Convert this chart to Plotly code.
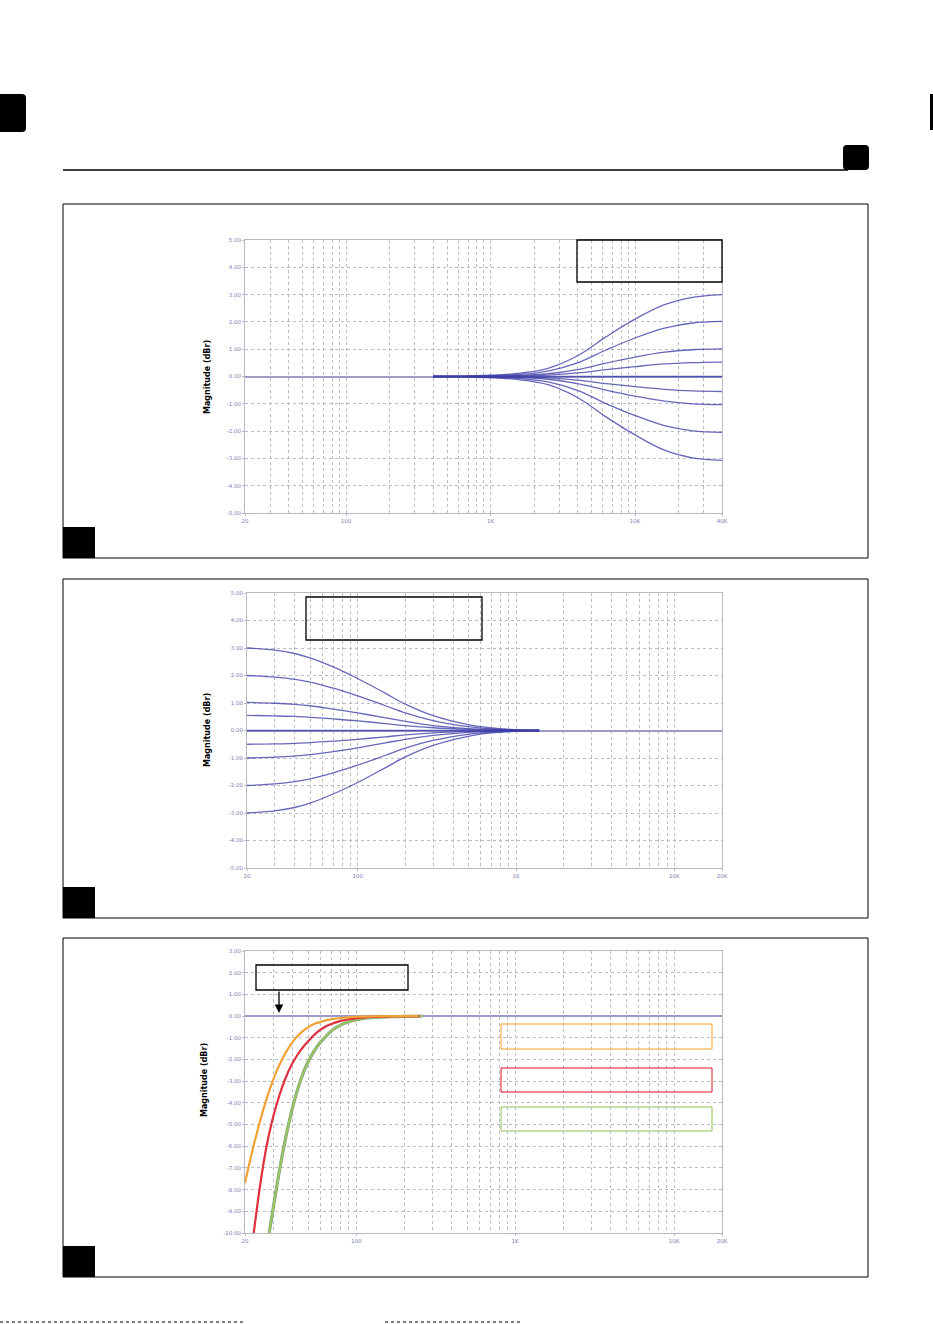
import plotly.graph_objects as go
import math

# ---------------- data ----------------
# Panel 1: high-shelf family (Hz, dBr)
hs_freq = [400, 630, 1000, 1600, 2500, 4000, 6300, 10000, 16000, 25000, 40000]
hs_p3 = [0, 0.015, 0.045, 0.12, 0.3, 0.76, 1.45, 2.1, 2.63, 2.9, 3.0]
hs_p2 = [0, 0.01, 0.03, 0.08, 0.2, 0.5, 0.97, 1.41, 1.77, 1.96, 2.02]
hs_p1 = [0, 0.005, 0.015, 0.04, 0.1, 0.25, 0.49, 0.71, 0.89, 0.98, 1.01]
hs_p05 = [0, 0.003, 0.008, 0.02, 0.05, 0.13, 0.25, 0.36, 0.46, 0.51, 0.53]
hs_0 = [0, 0, 0, 0, 0, 0, 0, 0, 0, 0, 0]
hs_m05 = [0, -0.003, -0.008, -0.02, -0.05, -0.13, -0.26, -0.37, -0.47, -0.53, -0.55]
hs_m1 = [0, -0.005, -0.015, -0.04, -0.1, -0.26, -0.5, -0.72, -0.9, -1.0, -1.03]
hs_m2 = [0, -0.01, -0.03, -0.08, -0.2, -0.51, -0.99, -1.43, -1.8, -1.99, -2.05]
hs_m3 = [0, -0.015, -0.045, -0.12, -0.3, -0.77, -1.48, -2.14, -2.7, -2.98, -3.07]

# Panel 2: low-shelf family
ls_freq = [20, 30, 40, 50, 70, 100, 150, 200, 300, 500, 700, 1000, 1400]
ls_p3 = [3.0, 2.92, 2.8, 2.64, 2.31, 1.89, 1.35, 0.96, 0.54, 0.21, 0.09, 0.03, 0.0]
ls_p2 = [2.0, 1.94, 1.86, 1.76, 1.54, 1.26, 0.9, 0.64, 0.36, 0.14, 0.06, 0.02, 0.0]
ls_p1 = [1.02, 0.99, 0.95, 0.9, 0.78, 0.64, 0.46, 0.33, 0.18, 0.07, 0.03, 0.01, 0.0]
ls_p05 = [0.55, 0.53, 0.51, 0.48, 0.42, 0.35, 0.25, 0.18, 0.1, 0.04, 0.015, 0.005, 0.0]
ls_0 = [0, 0, 0, 0, 0, 0, 0, 0, 0, 0, 0, 0, 0]
ls_m05 = [-0.5, -0.49, -0.47, -0.44, -0.39, -0.32, -0.23, -0.16, -0.09, -0.035, -0.015, -0.005, 0.0]
ls_m1 = [-1.0, -0.97, -0.93, -0.88, -0.77, -0.63, -0.45, -0.32, -0.18, -0.07, -0.03, -0.01, 0.0]
ls_m2 = [-2.0, -1.94, -1.86, -1.76, -1.54, -1.26, -0.9, -0.64, -0.36, -0.14, -0.06, -0.02, 0.0]
ls_m3 = [-3.0, -2.92, -2.8, -2.64, -2.31, -1.89, -1.35, -0.96, -0.54, -0.21, -0.09, -0.03, 0.0]

# Panel 3: high-pass curves
hp_orange_f = [20, 21.9, 24.0, 26.3, 28.8, 31.5, 34.5, 37.8, 41.4, 45.4, 49.7, 54.4, 59.6, 65.3, 80, 101, 140, 200, 246]
hp_orange_v = [-7.7, -6.42, -5.26, -4.22, -3.32, -2.56, -1.94, -1.44, -1.04, -0.74, -0.52, -0.37, -0.27, -0.19, -0.09, -0.03, -0.01, 0.0, 0.0]
hp_red_f = [22.7, 24.9, 27.2, 29.8, 32.7, 35.8, 39.2, 43.0, 47.1, 51.6, 56.5, 61.9, 67.8, 80, 101, 128, 170, 250]
hp_red_v = [-10, -7.8, -6.08, -4.76, -3.72, -2.9, -2.26, -1.76, -1.37, -1.04, -0.76, -0.55, -0.4, -0.22, -0.1, -0.04, -0.01, 0.0]
hp_green_f = [28.4, 31.1, 34.1, 37.4, 41.0, 44.9, 49.2, 53.9, 59.1, 64.8, 71.0, 77.8, 85.3, 92, 117, 164, 220, 260]
hp_green_v = [-10, -8.2, -6.52, -5.06, -3.86, -2.92, -2.2, -1.66, -1.24, -0.92, -0.64, -0.46, -0.32, -0.24, -0.09, -0.03, -0.01, 0.0]

# tick labels
x_ticks_40k = [20, 100, 1000, 10000, 40000]
x_text_40k = ["20", "100", "1K", "10K", "40K"]
x_ticks_20k = [20, 100, 1000, 10000, 20000]
x_text_20k = ["20", "100", "1K", "10K", "20K"]
y_ticks_a = [5, 4, 3, 2, 1, 0, -1, -2, -3, -4, -5]
y_ticks_c = [3, 2, 1, 0, -1, -2, -3, -4, -5, -6, -7, -8, -9, -10]
y_title = "Magnitude (dBr)"

# ---------------- layout helpers ----------------
W, H = 933, 1324
def X(x): return x / W
def Y(y): return 1 - y / H

minor_grid_40k = [m * 10 ** d for d in range(1, 5) for m in range(2, 10) if 20 <= m * 10 ** d <= 40000]
minor_grid_20k = [m * 10 ** d for d in range(1, 5) for m in range(2, 10) if 20 <= m * 10 ** d <= 20000]

GRID = "#bcbcc8"
TICKC = "#7d7db3"
CURVE = "rgba(62,62,168,0.78)"

fig = go.Figure()

def add_family(freq, series, axis):
    for s in series:
        fig.add_trace(go.Scatter(x=freq, y=s, mode="lines", line=dict(color=CURVE, width=1.3, shape="spline", smoothing=1.0),
                                 xaxis="x" + axis, yaxis="y" + axis, hoverinfo="skip"))

add_family(hs_freq, [hs_p3, hs_p2, hs_p1, hs_p05, hs_0, hs_m05, hs_m1, hs_m2, hs_m3], "")
add_family(ls_freq, [ls_p3, ls_p2, ls_p1, ls_p05, ls_0, ls_m05, ls_m1, ls_m2, ls_m3], "2")

fig.add_trace(go.Scatter(x=hp_green_f, y=hp_green_v, mode="lines", line=dict(color="#8a9a80", width=3.2, shape="spline"),
                         xaxis="x3", yaxis="y3", hoverinfo="skip"))
fig.add_trace(go.Scatter(x=hp_green_f, y=hp_green_v, mode="lines", line=dict(color="#96c862", width=2, shape="spline"),
                         xaxis="x3", yaxis="y3", hoverinfo="skip"))
fig.add_trace(go.Scatter(x=hp_red_f, y=hp_red_v, mode="lines", line=dict(color="#e0303e", width=2.2, shape="spline"),
                         xaxis="x3", yaxis="y3", hoverinfo="skip"))
fig.add_trace(go.Scatter(x=hp_orange_f, y=hp_orange_v, mode="lines", line=dict(color="#f2a233", width=2.2, shape="spline"),
                         xaxis="x3", yaxis="y3", hoverinfo="skip"))

def xaxis(dom, top, tickvals, ticktext, minor_vals):
    return dict(type="log", domain=dom, range=[math.log10(20), math.log10(top)],
                tickmode="array", tickvals=tickvals, ticktext=ticktext,
                tickfont=dict(size=5.5, color=TICKC, family="DejaVu Sans"),
                showgrid=True, gridcolor=GRID, griddash="dot", gridwidth=1,
                minor=dict(tickmode="array", tickvals=minor_vals, showgrid=True, gridcolor=GRID,
                           griddash="dot", gridwidth=1, ticks=""),
                showline=True, linecolor="#b8b8c4", linewidth=1, mirror=True, automargin=False,
                ticks="outside", ticklen=2, tickcolor="#b8b8c4", zeroline=False, fixedrange=True)

def yaxis(dom, rng, tickvals, anchor, zw):
    return dict(domain=dom, range=rng, tickmode="array", tickvals=tickvals,
                ticktext=["%.2f" % v for v in tickvals], anchor=anchor,
                tickfont=dict(size=5.5, color=TICKC, family="DejaVu Sans"),
                showgrid=True, gridcolor=GRID, griddash="dot", gridwidth=1,
                zeroline=True, zerolinecolor="#9c9cc8", zerolinewidth=zw,
                showline=True, linecolor="#b8b8c4", linewidth=1, mirror=True, automargin=False,
                ticks="outside", ticklen=2, tickcolor="#b8b8c4", fixedrange=True)

fig.update_layout(
    width=W, height=H, margin=dict(l=0, r=0, t=0, b=0, pad=0, autoexpand=False),
    paper_bgcolor="white", plot_bgcolor="white", showlegend=False,
    xaxis=xaxis([X(245), X(722)], 40000, x_ticks_40k, x_text_40k, minor_grid_40k) | dict(anchor="y"),
    yaxis=yaxis([Y(513), Y(240)], [-5, 5], y_ticks_a, "x", 1.8),
    xaxis2=xaxis([X(247), X(722)], 20000, x_ticks_20k, x_text_20k, minor_grid_20k) | dict(anchor="y2"),
    yaxis2=yaxis([Y(868), Y(593)], [-5, 5], y_ticks_a, "x2", 1.8),
    xaxis3=xaxis([X(245), X(722)], 20000, x_ticks_20k, x_text_20k, minor_grid_20k) | dict(anchor="y3"),
    yaxis3=yaxis([Y(1233), Y(951)], [-10, 3], y_ticks_c, "x3", 2.4),
)

shapes = []
def rect(x0, y0, x1, y1, color="black", width=1, fill=None):
    d = dict(type="rect", xref="paper", yref="paper", x0=X(x0), x1=X(x1), y0=Y(y1), y1=Y(y0),
             line=dict(color=color, width=width))
    if fill:
        d["fillcolor"] = fill
    if width == 0:
        d["line"] = dict(width=0)
    shapes.append(d)

def rrect(x0, y0, x1, y1, r):
    p = (f"M {X(x0+r)},{Y(y0)} L {X(x1-r)},{Y(y0)} Q {X(x1)},{Y(y0)} {X(x1)},{Y(y0+r)} "
         f"L {X(x1)},{Y(y1-r)} Q {X(x1)},{Y(y1)} {X(x1-r)},{Y(y1)} L {X(x0+r)},{Y(y1)} "
         f"Q {X(x0)},{Y(y1)} {X(x0)},{Y(y1-r)} L {X(x0)},{Y(y0+r)} Q {X(x0)},{Y(y0)} {X(x0+r)},{Y(y0)} Z")
    shapes.append(dict(type="path", xref="paper", yref="paper", path=p, fillcolor="black", line=dict(width=0)))

# page decorations
rrect(-6, 94, 26, 132, 4)
rrect(843, 145, 869, 170, 4)
rect(930, 94, 934, 130, width=0, fill="black")
shapes.append(dict(type="line", xref="paper", yref="paper", x0=X(63), x1=X(848), y0=Y(170), y1=Y(170),
                   line=dict(color="black", width=1.5)))
# panel frames and corner squares
for (t, b) in [(204, 558), (579, 918), (938, 1277)]:
    rect(63, t, 868, b, width=1)
    rect(63, b - 31, 95, b, width=0, fill="black")
# empty callout boxes
rect(577, 240, 722, 282, width=1.3)
rect(306, 597, 482, 640, width=1.3)
rect(256, 965, 408, 990, width=1.3)
rect(501, 1024, 712, 1049, color="#f5a02a", width=1)
rect(501, 1068, 712, 1092, color="#e0101e", width=1)
rect(501, 1107, 712, 1131, color="#8cc450", width=1)
# bottom dotted strip
shapes.append(dict(type="line", xref="paper", yref="paper", x0=X(0), x1=X(246), y0=Y(1322), y1=Y(1322),
                   line=dict(color="#555", width=1.5, dash="dot")))
shapes.append(dict(type="line", xref="paper", yref="paper", x0=X(385), x1=X(520), y0=Y(1322), y1=Y(1322),
                   line=dict(color="#555", width=1.5, dash="dot")))
fig.update_layout(shapes=shapes)

annotations = []
for (xc, yc) in [(207, 377), (207, 730), (204, 1080)]:
    annotations.append(dict(xref="paper", yref="paper", x=X(xc), y=Y(yc), text="<b>" + y_title + "</b>",
                            textangle=-90, showarrow=False, font=dict(size=8, color="black", family="DejaVu Sans"),
                            xanchor="center", yanchor="middle"))
annotations.append(dict(xref="paper", yref="paper", x=X(279), y=Y(1013), ax=0, ay=-23, text="",
                        showarrow=True, arrowhead=2, arrowsize=1.3, arrowwidth=1.3, arrowcolor="black"))
fig.update_layout(annotations=annotations)

fig.write_html("out.html")
